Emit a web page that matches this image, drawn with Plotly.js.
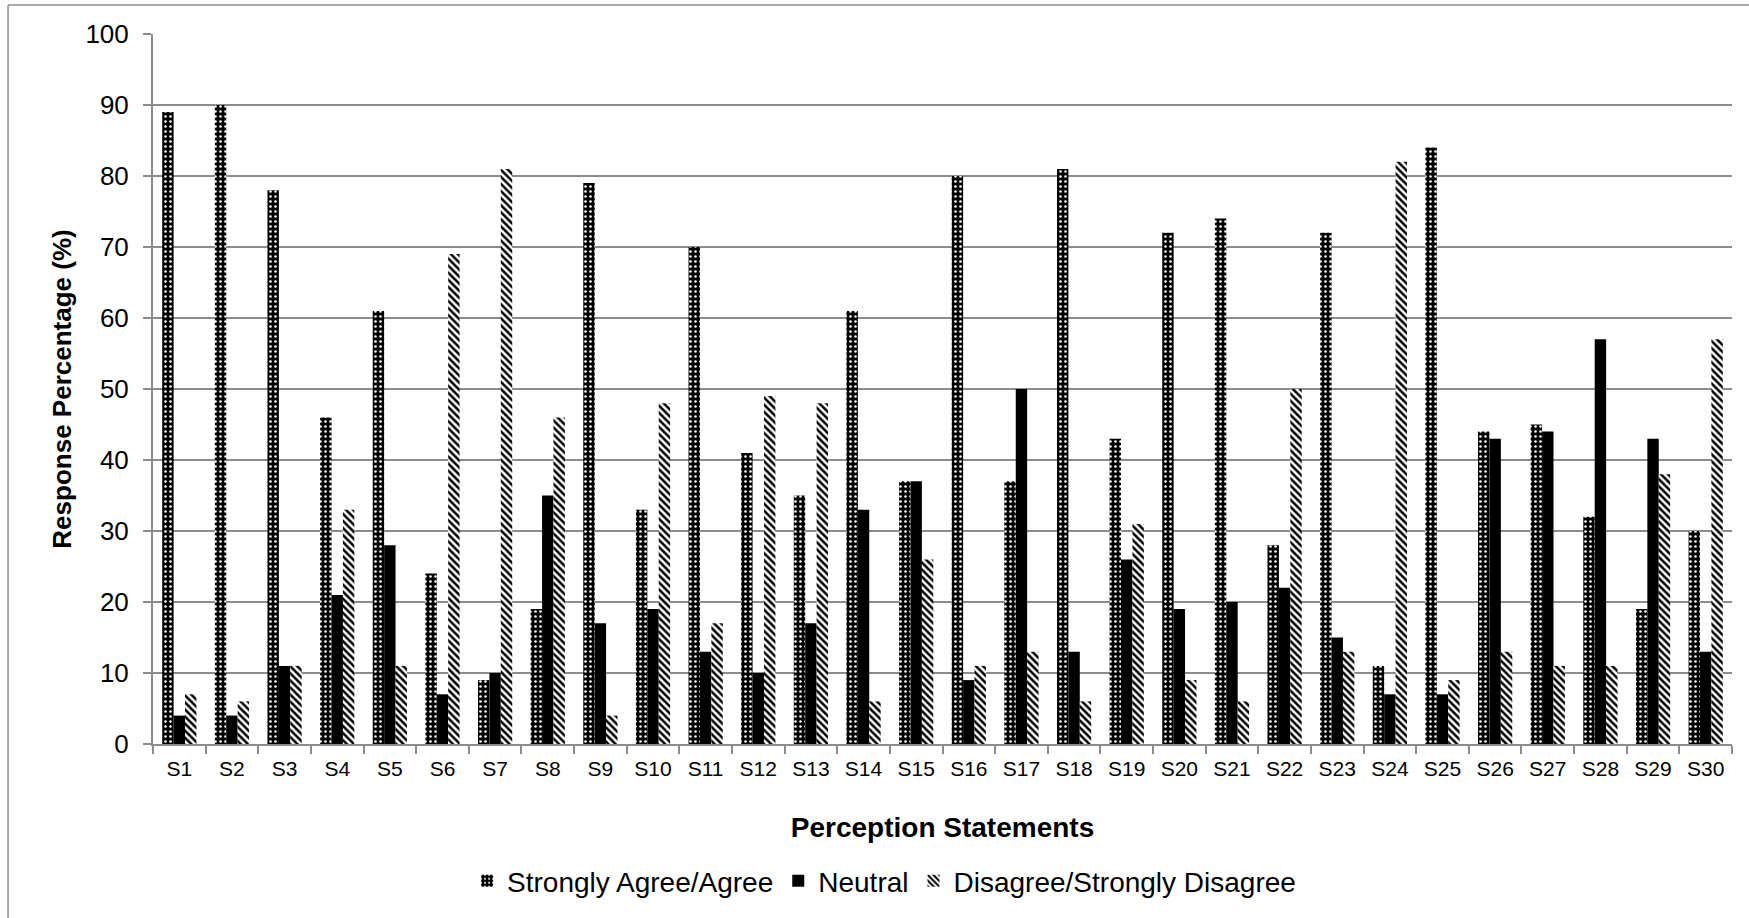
<!DOCTYPE html>
<html>
<head>
<meta charset="utf-8">
<script src="https://cdn.plot.ly/plotly-3.0.1.min.js"></script>
<style>html,body{margin:0;padding:0;background:#fff;}#chart{width:1749px;height:918px;}</style>
</head>
<body>
<div id="chart"></div>
<script>
const categories = ["S1","S2","S3","S4","S5","S6","S7","S8","S9","S10","S11","S12","S13","S14","S15","S16","S17","S18","S19","S20","S21","S22","S23","S24","S25","S26","S27","S28","S29","S30"];
const agree    = [89,90,78,46,61,24, 9,19,79,33,70,41,35,61,37,80,37,81,43,72,74,28,72,11,84,44,45,32,19,30];
const neutral  = [ 4, 4,11,21,28, 7,10,35,17,19,13,10,17,33,37, 9,50,13,26,19,20,22,15, 7, 7,43,44,57,43,13];
const disagree = [ 7, 6,11,33,11,69,81,46, 4,48,17,49,48, 6,26,11,13, 6,31, 9, 6,50,13,82, 9,13,11,11,38,57];
const seriesNames = ["Strongly Agree/Agree","Neutral","Disagree/Strongly Disagree"];
const yTicks = [0,10,20,30,40,50,60,70,80,90,100];

const font = "Liberation Sans, Arial, sans-serif";
const traces = [
  {type:"bar", name:seriesNames[0], x:categories, y:agree,
   marker:{color:"#000", line:{width:0}, pattern:{shape:".", bgcolor:"#000", fgcolor:"#fff", size:5, solidity:0.2, fillmode:"replace"}}},
  {type:"bar", name:seriesNames[1], x:categories, y:neutral,
   marker:{color:"#000", line:{width:0}}},
  {type:"bar", name:seriesNames[2], x:categories, y:disagree,
   marker:{color:"#000", line:{width:0}, pattern:{shape:"\\", bgcolor:"#fff", fgcolor:"#000", size:5, solidity:0.5, fillmode:"replace"}}}
];

const layout = {
  width:1749, height:918,
  margin:{l:153, r:17, t:34, b:174},
  paper_bgcolor:"#fff", plot_bgcolor:"#fff",
  font:{family:font, size:20, color:"#000"},
  barmode:"group", bargap:0.35, bargroupgap:0,
  showlegend:true,
  legend:{orientation:"h", x:0.463, xanchor:"center", y:-0.193, yanchor:"middle",
          font:{family:font, size:28, color:"#000"}, traceorder:"normal"},
  xaxis:{type:"category", tickson:"boundaries", ticks:"outside", ticklen:8, tickcolor:"#8c8c8c", tickwidth:2,
         showline:true, linecolor:"#8c8c8c", linewidth:2, showgrid:false, ticklabelstandoff:5,
         tickfont:{family:font, size:21, color:"#000"},
         title:{text:"<b>Perception Statements</b>", font:{family:font, size:28, color:"#000"}, standoff:38}},
  yaxis:{range:[0,100], tickvals:yTicks, ticktext:yTicks.map(String), ticks:"outside", ticklen:8,
         tickcolor:"#8c8c8c", tickwidth:2, showline:true, linecolor:"#8c8c8c", linewidth:2,
         showgrid:true, gridcolor:"#8c8c8c", gridwidth:2, zeroline:false, ticklabelstandoff:9,
         tickfont:{family:font, size:26, color:"#000"},
         title:{text:"<b>Response Percentage (%)</b>", font:{family:font, size:26, color:"#000"}, standoff:6}},
  shapes:[
    {type:"line", xref:"paper", yref:"paper", x0:-0.0918, x1:1.02, y0:1.0408, y1:1.0408, line:{color:"#8c8c8c", width:1.5}},
    {type:"line", xref:"paper", yref:"paper", x0:-0.0918, x1:-0.0918, y0:1.0408, y1:-0.25, line:{color:"#8c8c8c", width:1.5}}
  ]
};
Plotly.newPlot("chart", traces, layout, {displayModeBar:false, staticPlot:true});
</script>
</body>
</html>
